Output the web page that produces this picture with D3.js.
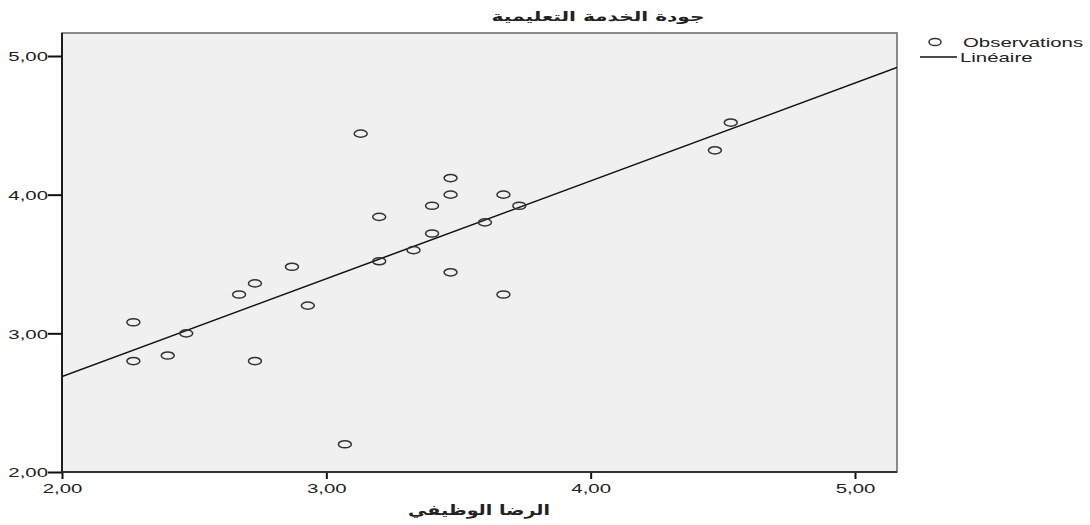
<!DOCTYPE html>
<html>
<head>
<meta charset="utf-8">
<script src="https://cdn.jsdelivr.net/npm/d3@7"></script>
<style>
  body { margin: 0; background: #fff; }
  text { font-family: "Liberation Sans", Arial, sans-serif; fill: #222; }
  .ar { font-family: "DejaVu Sans", sans-serif; font-weight: bold; }
</style>
</head>
<body>
<div id="chart"></div>
<script>
// observations
const satisfaction = [2.27, 2.27, 2.40, 2.47, 2.67, 2.73, 2.73, 2.87, 2.93, 3.07, 3.13, 3.20, 3.20,
                      3.33, 3.40, 3.40, 3.47, 3.47, 3.47, 3.60, 3.67, 3.67, 3.73, 4.47, 4.53];
const quality = [3.08, 2.80, 2.84, 3.00, 3.28, 3.36, 2.80, 3.48, 3.20, 2.20, 4.44, 3.84, 3.52,
                 3.60, 3.92, 3.72, 4.12, 4.00, 3.44, 3.80, 4.00, 3.28, 3.92, 4.32, 4.52];
const xTicks = [2, 3, 4, 5];
const yTicks = [2, 3, 4, 5];
const title = "جودة الخدمة التعليمية";
const xTitle = "الرضا الوظيفي";
const legendLabels = ["Observations", "Linéaire"];

const W = 1090, H = 525;
const plot = { left: 62, right: 897, top: 33, bottom: 472 };
const sx = 1.7; // the picture is stretched horizontally

const x = d3.scaleLinear().domain([2, 5]).range([plot.left, 855]);
const y = d3.scaleLinear().domain([2, 5]).range([plot.bottom, 56]);
x.domain([2, x.invert(plot.right)]).range([plot.left, plot.right]);
y.domain([2, y.invert(plot.top)]).range([plot.bottom, plot.top]);

const fmt = v => d3.format(".2f")(v).replace(".", ",");

const svg = d3.select("#chart").append("svg")
    .attr("width", W)
    .attr("height", H);

// plot area
svg.append("rect")
    .attr("x", plot.left).attr("y", plot.top)
    .attr("width", plot.right - plot.left)
    .attr("height", plot.bottom - plot.top)
    .attr("fill", "#f0f0f0")
    .attr("stroke", "#6e6e6e")
    .attr("stroke-width", 1.6);

svg.append("clipPath").attr("id", "clip")
    .append("rect")
    .attr("x", plot.left).attr("y", plot.top)
    .attr("width", plot.right - plot.left)
    .attr("height", plot.bottom - plot.top);

// least squares fit
const pts = satisfaction.map((v, i) => ({ x: v, y: quality[i] }));
const mx = d3.mean(pts, d => d.x), my = d3.mean(pts, d => d.y);
const slope = d3.sum(pts, d => (d.x - mx) * (d.y - my)) / d3.sum(pts, d => (d.x - mx) ** 2);
const intercept = my - slope * mx;

svg.append("line")
    .attr("clip-path", "url(#clip)")
    .attr("x1", x(x.domain()[0])).attr("y1", y(intercept + slope * x.domain()[0]))
    .attr("x2", x(x.domain()[1])).attr("y2", y(intercept + slope * x.domain()[1]))
    .attr("stroke", "#111")
    .attr("stroke-width", 1.5);

svg.append("g")
    .selectAll("ellipse")
    .data(pts)
    .join("ellipse")
    .attr("cx", d => x(d.x))
    .attr("cy", d => y(d.y))
    .attr("rx", 6.5)
    .attr("ry", 3.6)
    .attr("fill", "none")
    .attr("stroke", "#333")
    .attr("stroke-width", 1.5);

// axes
const yAxis = svg.append("g")
    .attr("transform", `translate(${plot.left},0)`)
    .call(d3.axisLeft(y).tickValues(yTicks).tickFormat(fmt).tickSize(14).tickPadding(0).tickSizeOuter(0));
const xAxis = svg.append("g")
    .attr("transform", `translate(0,${plot.bottom})`)
    .call(d3.axisBottom(x).tickValues(xTicks).tickFormat(fmt).tickSize(7).tickSizeOuter(0));

svg.selectAll(".domain").remove();
svg.selectAll(".tick line").attr("stroke", "#111").attr("stroke-width", 2);
svg.selectAll(".tick text")
    .attr("font-family", "Liberation Sans, Arial, sans-serif")
    .attr("font-size", 12)
    .attr("fill", "#222");
yAxis.selectAll(".tick text")
    .attr("x", -14 / sx)
    .attr("dy", "0.4em")
    .attr("transform", `scale(${sx},1)`);
xAxis.selectAll(".tick text")
    .attr("y", 21)
    .attr("dy", null)
    .attr("transform", `scale(${sx},1)`)
    .attr("x", 0);

// left and bottom axis lines in black
svg.append("line")
    .attr("x1", plot.left).attr("x2", plot.left)
    .attr("y1", plot.top).attr("y2", plot.bottom + 1)
    .attr("stroke", "#111").attr("stroke-width", 1.8);
svg.append("line")
    .attr("x1", plot.left).attr("x2", plot.right)
    .attr("y1", plot.bottom).attr("y2", plot.bottom)
    .attr("stroke", "#333").attr("stroke-width", 1.8);

// arabic titles, stretched to the width seen in the picture
function stretchedText(txt, cx, baseline, size, width) {
    const g = svg.append("g");
    const t = g.append("text")
        .attr("class", "ar")
        .attr("text-anchor", "middle")
        .attr("font-size", size)
        .attr("direction", "rtl")
        .text(txt);
    const k = width / t.node().getComputedTextLength();
    g.attr("transform", `translate(${cx},${baseline}) scale(${k},1)`);
}
stretchedText(title, 598, 21, 13, 213);
stretchedText(xTitle, 479, 515, 14, 142);

// legend
const legend = svg.append("g");
legend.append("ellipse")
    .attr("cx", 935).attr("cy", 42)
    .attr("rx", 6).attr("ry", 3.6)
    .attr("fill", "none").attr("stroke", "#333").attr("stroke-width", 1.5);
legend.append("line")
    .attr("x1", 920).attr("x2", 957)
    .attr("y1", 57).attr("y2", 57)
    .attr("stroke", "#111").attr("stroke-width", 1.5);
legend.selectAll("text")
    .data(legendLabels)
    .join("text")
    .attr("transform", (d, i) => `translate(${i ? 960 : 963},${i ? 62 : 47}) scale(${sx},1)`)
    .attr("font-size", 12)
    .text(d => d);
</script>
</body>
</html>
